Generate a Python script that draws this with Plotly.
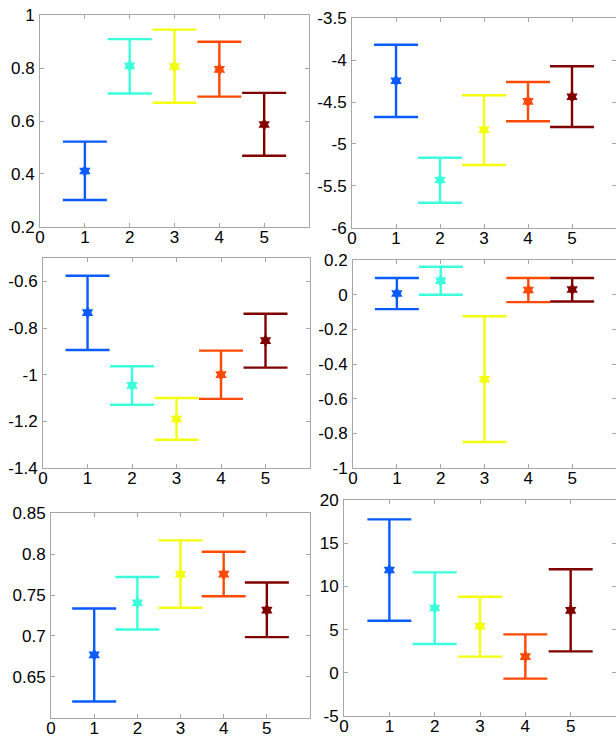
import plotly.graph_objects as go

x = [1, 2, 3, 4, 5]
colors = ["#0a5cff", "#3cffdc", "#f4ff10", "#ff4a05", "#800000"]

# panel 1
p1_mid = [0.411, 0.808, 0.806, 0.795, 0.587]
p1_hi = [0.522, 0.909, 0.945, 0.899, 0.706]
p1_lo = [0.302, 0.704, 0.669, 0.692, 0.469]
# panel 2
p2_mid = [-4.246, -5.429, -4.83, -4.493, -4.437]
p2_hi = [-3.818, -5.163, -4.42, -4.262, -4.075]
p2_lo = [-4.679, -5.699, -5.25, -4.73, -4.797]
# panel 3
p3_mid = [-0.734, -1.046, -1.19, -1.0, -0.854]
p3_hi = [-0.576, -0.964, -1.10, -0.897, -0.739]
p3_lo = [-0.894, -1.129, -1.279, -1.104, -0.97]
# panel 4
p4_mid = [0.007, 0.081, -0.488, 0.027, 0.03]
p4_hi = [0.096, 0.161, -0.124, 0.096, 0.096]
p4_lo = [-0.083, 0.0, -0.85, -0.043, -0.039]
# panel 5
p5_mid = [0.677, 0.7405, 0.7755, 0.7755, 0.7315]
p5_hi = [0.7335, 0.772, 0.8167, 0.8027, 0.7652]
p5_lo = [0.620, 0.708, 0.7344, 0.7484, 0.6986]
# panel 6
p6_mid = [11.9, 7.5, 5.38, 1.87, 7.23]
p6_hi = [17.76, 11.63, 8.81, 4.45, 11.98]
p6_lo = [6.03, 3.33, 1.87, -0.68, 2.48]

panels = [
    (p1_mid, p1_hi, p1_lo, [0.2, 1.0], [0.2, 0.4, 0.6, 0.8, 1.0], ["0.2", "0.4", "0.6", "0.8", "1"]),
    (p2_mid, p2_hi, p2_lo, [-6, -3.5], [-6, -5.5, -5, -4.5, -4, -3.5], ["-6", "-5.5", "-5", "-4.5", "-4", "-3.5"]),
    (p3_mid, p3_hi, p3_lo, [-1.4, -0.5], [-1.4, -1.2, -1.0, -0.8, -0.6], ["-1.4", "-1.2", "-1", "-0.8", "-0.6"]),
    (p4_mid, p4_hi, p4_lo, [-1, 0.2], [-1, -0.8, -0.6, -0.4, -0.2, 0, 0.2], ["-1", "-0.8", "-0.6", "-0.4", "-0.2", "0", "0.2"]),
    (p5_mid, p5_hi, p5_lo, [0.6, 0.85], [0.65, 0.7, 0.75, 0.8, 0.85], ["0.65", "0.7", "0.75", "0.8", "0.85"]),
    (p6_mid, p6_hi, p6_lo, [-5, 20], [-5, 0, 5, 10, 15, 20], ["-5", "0", "5", "10", "15", "20"]),
]

W, H = 616, 741
# pixel boxes in the window: left, right, top, bottom
boxes = [
    (40, 309, 15, 227),
    (352, 616, 18, 228),
    (43, 310, 258, 468),
    (353, 616, 260, 468),
    (51, 310, 513, 718),
    (344, 616, 500, 716),
]

fig = go.Figure()
layout = {}
axcolor = "#a6a6a6"
font = dict(family="Liberation Sans, Arial, sans-serif", size=17, color="black")

for i, (mid, hi, lo, yr, tv, tt) in enumerate(panels):
    n = i + 1
    xa = "x" if n == 1 else f"x{n}"
    ya = "y" if n == 1 else f"y{n}"
    for j in range(5):
        fig.add_trace(go.Scatter(
            x=[x[j]], y=[mid[j]], xaxis=xa, yaxis=ya, mode="markers",
            marker=dict(symbol="hexagram", size=10, color=colors[j], line=dict(width=0)),
            error_y=dict(type="data", symmetric=False,
                         array=[hi[j] - mid[j]], arrayminus=[mid[j] - lo[j]],
                         color=colors[j], thickness=2.4, width=22),
            showlegend=False, hoverinfo="skip"))
    l, r, t, b = boxes[i]
    eps = (yr[1] - yr[0]) * 2e-4
    common = dict(showgrid=False, zeroline=False, showline=True, linecolor=axcolor,
                  linewidth=1, mirror="ticks", ticks="inside", ticklen=4,
                  tickcolor=axcolor, tickfont=font, automargin=False,
                  ticklabeloverflow="allow", fixedrange=True)
    layout["xaxis" if n == 1 else f"xaxis{n}"] = dict(
        domain=[l / W, min(r / W, 1.0)], range=[-0.001, 6], anchor=ya,
        tickvals=[0, 1, 2, 3, 4, 5], ticktext=["0", "1", "2", "3", "4", "5"],
        ticklabelstandoff=-5, **common)
    layout["yaxis" if n == 1 else f"yaxis{n}"] = dict(
        domain=[1 - b / H, 1 - t / H], range=[yr[0] - eps, yr[1] + eps], anchor=xa,
        tickvals=tv, ticktext=tt, ticklabelstandoff=1, **common)

fig.update_layout(width=W, height=H, margin=dict(l=0, r=0, t=0, b=0, autoexpand=False),
                  paper_bgcolor="white", plot_bgcolor="white", hovermode=False, **layout)
fig.write_html("out.html", config={"displayModeBar": False, "staticPlot": True},
               post_script="document.body.style.margin='0px';document.body.style.overflow='hidden';")
